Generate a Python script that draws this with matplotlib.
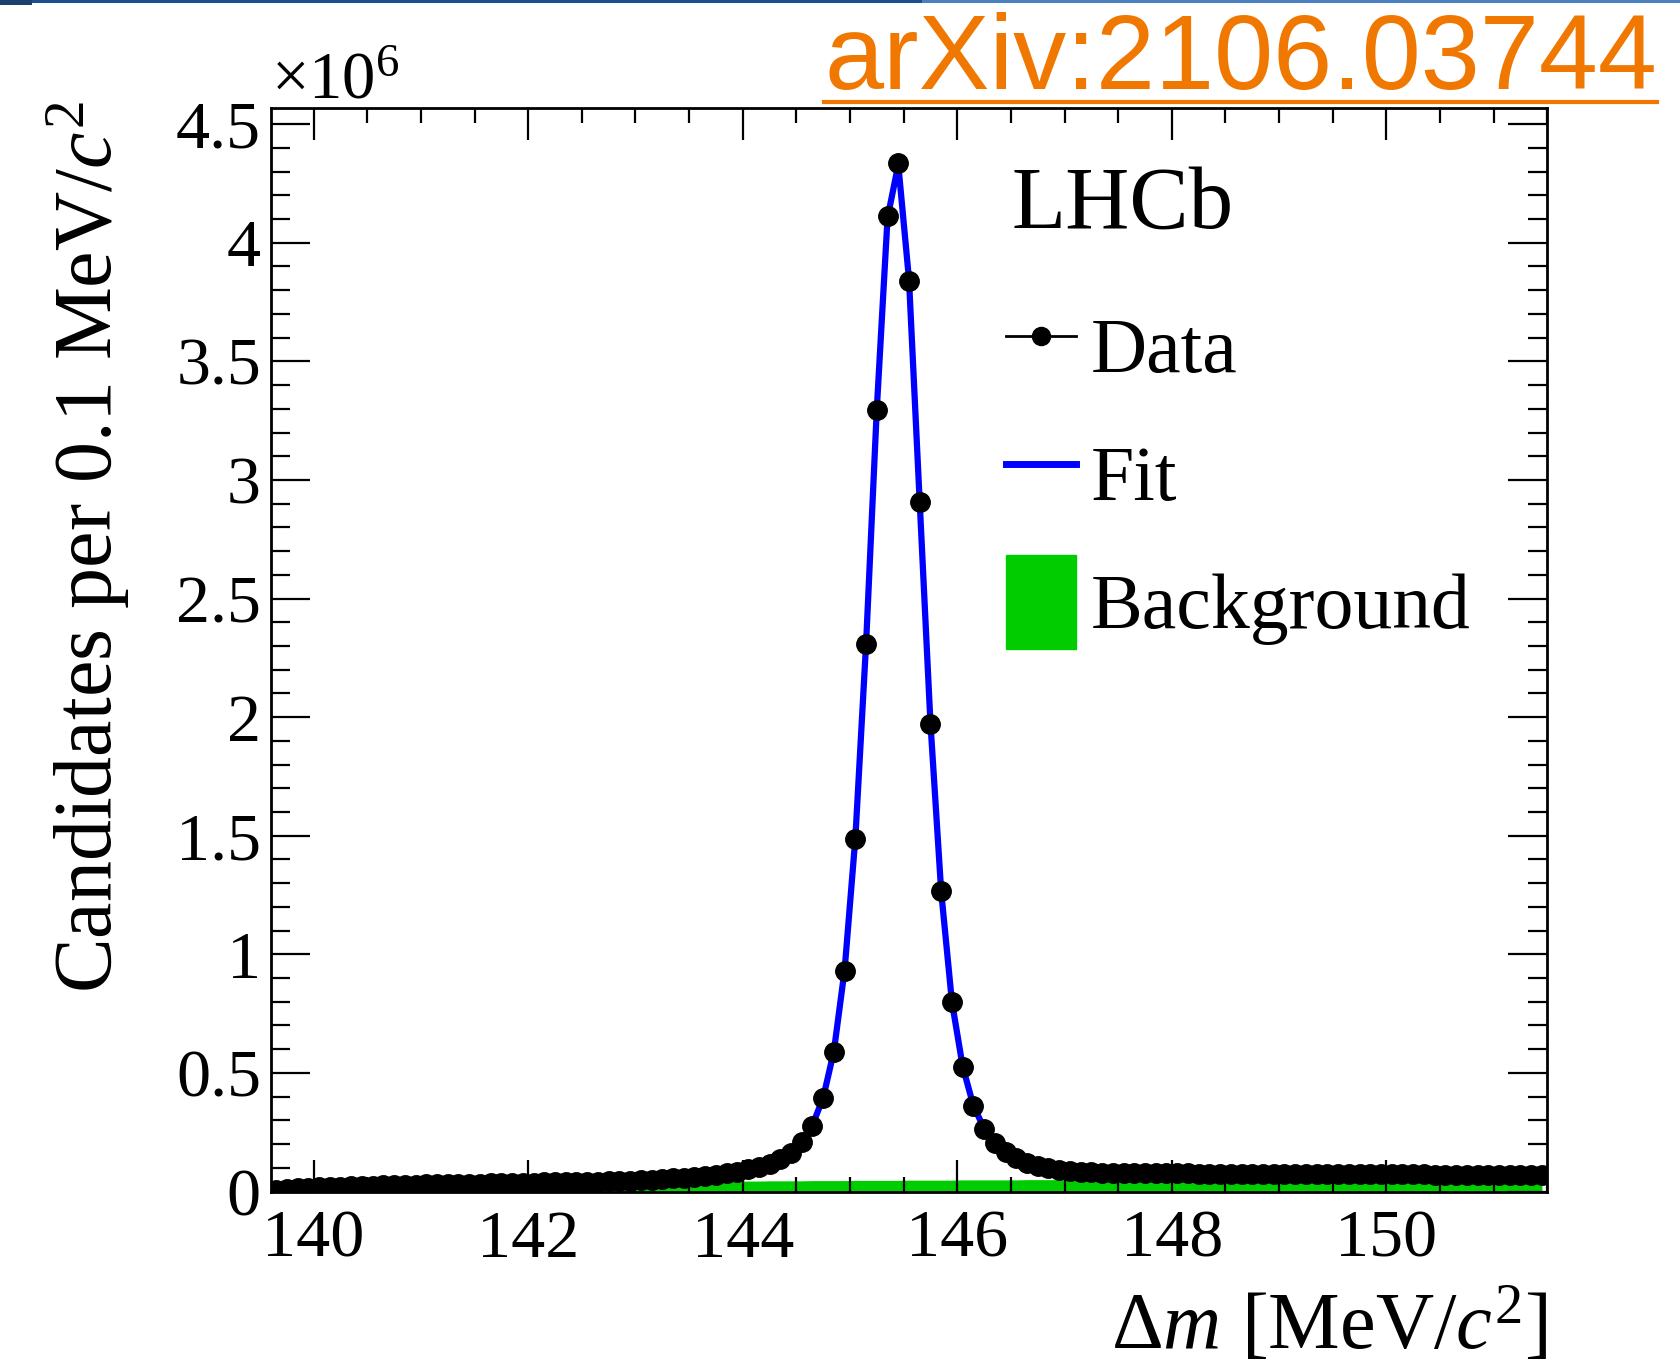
import numpy as np
import matplotlib
matplotlib.use("Agg")
import matplotlib.pyplot as plt
from matplotlib.lines import Line2D
from matplotlib.patches import Patch, Rectangle
from matplotlib.ticker import MultipleLocator, FuncFormatter

plt.rcParams['font.family'] = ['Liberation Serif', 'DejaVu Serif']
plt.rcParams['mathtext.fontset'] = 'custom'
plt.rcParams['mathtext.rm'] = 'Liberation Serif'
plt.rcParams['mathtext.it'] = 'Liberation Serif:italic'
plt.rcParams['mathtext.bf'] = 'Liberation Serif:bold'

# ---- data (in units of 10^6 candidates per 0.1 MeV/c^2) ----
bin_lo, bin_hi, bin_w = 139.6, 151.5, 0.1
bin_centers = np.round(np.arange(bin_lo + bin_w / 2, bin_hi, bin_w), 2)

data_vals = [
    0.005, 0.010, 0.013, 0.016, 0.018, 0.020, 0.021, 0.022, 0.024, 0.025,
    0.026, 0.027, 0.028, 0.029, 0.030, 0.031, 0.031, 0.032, 0.033, 0.033,
    0.034, 0.035, 0.035, 0.036, 0.037, 0.038, 0.038, 0.039, 0.040, 0.041,
    0.042, 0.043, 0.045, 0.046, 0.048, 0.050, 0.052, 0.055, 0.058, 0.062,
    0.066, 0.071, 0.077, 0.084, 0.093, 0.104, 0.117, 0.136, 0.162, 0.210,
    0.277, 0.393, 0.589, 0.929, 1.485, 2.307, 3.297, 4.111, 4.336, 3.840,
    2.908, 1.973, 1.268, 0.797, 0.526, 0.360, 0.265, 0.205, 0.168, 0.140,
    0.119, 0.106, 0.097, 0.091, 0.087, 0.084, 0.082, 0.080, 0.079, 0.078,
    0.077, 0.077, 0.076, 0.076, 0.076, 0.076, 0.075, 0.075, 0.075, 0.075,
    0.075, 0.074, 0.074, 0.074, 0.074, 0.074, 0.073, 0.073, 0.073, 0.073,
    0.073, 0.073, 0.072, 0.072, 0.072, 0.072, 0.072, 0.072, 0.071, 0.071,
    0.071, 0.071, 0.071, 0.071, 0.070, 0.070, 0.070, 0.070, 0.070,
]

fit_vals = [
    0.005, 0.010, 0.013, 0.016, 0.018, 0.020, 0.021, 0.022, 0.024, 0.025,
    0.026, 0.027, 0.028, 0.029, 0.030, 0.031, 0.031, 0.032, 0.033, 0.033,
    0.034, 0.035, 0.035, 0.036, 0.037, 0.038, 0.038, 0.039, 0.040, 0.041,
    0.042, 0.043, 0.045, 0.046, 0.048, 0.050, 0.052, 0.055, 0.058, 0.062,
    0.066, 0.071, 0.077, 0.084, 0.093, 0.104, 0.118, 0.137, 0.165, 0.208,
    0.280, 0.395, 0.592, 0.935, 1.490, 2.310, 3.300, 4.105, 4.330, 3.845,
    2.905, 1.975, 1.265, 0.800, 0.528, 0.362, 0.266, 0.206, 0.168, 0.141,
    0.120, 0.106, 0.097, 0.091, 0.087, 0.084, 0.082, 0.080, 0.079, 0.078,
    0.077, 0.077, 0.076, 0.076, 0.076, 0.076, 0.075, 0.075, 0.075, 0.075,
    0.075, 0.074, 0.074, 0.074, 0.074, 0.074, 0.073, 0.073, 0.073, 0.073,
    0.073, 0.073, 0.072, 0.072, 0.072, 0.072, 0.072, 0.072, 0.071, 0.071,
    0.071, 0.071, 0.071, 0.071, 0.070, 0.070, 0.070, 0.070, 0.070,
]

bkg_vals = [
    0.005, 0.010, 0.013, 0.016, 0.018, 0.020, 0.021, 0.022, 0.023, 0.024,
    0.025, 0.026, 0.027, 0.028, 0.029, 0.030, 0.030, 0.031, 0.032, 0.032,
    0.033, 0.033, 0.034, 0.034, 0.035, 0.035, 0.036, 0.036, 0.037, 0.037,
    0.038, 0.038, 0.039, 0.039, 0.040, 0.040, 0.041, 0.041, 0.042, 0.042,
    0.042, 0.043, 0.043, 0.044, 0.044, 0.044, 0.045, 0.045, 0.045, 0.045,
    0.046, 0.046, 0.046, 0.046, 0.047, 0.047, 0.047, 0.047, 0.047, 0.048,
    0.048, 0.048, 0.048, 0.048, 0.049, 0.049, 0.049, 0.049, 0.049, 0.049,
    0.050, 0.050, 0.050, 0.050, 0.050, 0.050, 0.051, 0.051, 0.051, 0.051,
    0.051, 0.051, 0.052, 0.052, 0.052, 0.052, 0.052, 0.052, 0.052, 0.053,
    0.053, 0.053, 0.053, 0.053, 0.053, 0.053, 0.054, 0.054, 0.054, 0.054,
    0.054, 0.054, 0.054, 0.054, 0.055, 0.055, 0.055, 0.055, 0.055, 0.055,
    0.055, 0.055, 0.055, 0.055, 0.056, 0.056, 0.056, 0.056, 0.056,
]

x_limits = (139.6, 151.5)
y_limits = (0.0, 4.567)
x_major, x_minor = 2.0, 0.5
y_major, y_minor = 0.5, 0.1

green = '#00cc00'
blue = '#0000ff'
orange = '#f07800'

W, H = 1681, 1366
fig = plt.figure(figsize=(W / 100, H / 100), dpi=100)
ax_l, ax_r, ax_t, ax_b = 270.7, 1547.3, 108.3, 1191.5
ax = fig.add_axes([ax_l / W, 1 - ax_b / H, (ax_r - ax_l) / W, (ax_b - ax_t) / H])

ax.fill_between(bin_centers, 0, bkg_vals, color=green, lw=0, zorder=1)
ax.plot(bin_centers, fit_vals, color=blue, lw=4.5, zorder=2, solid_joinstyle='round')
ax.plot(bin_centers, data_vals, 'o', color='black', ms=14, zorder=3, clip_on=True)

ax.set_xlim(*x_limits)
ax.set_ylim(*y_limits)
ax.xaxis.set_major_locator(MultipleLocator(x_major))
ax.xaxis.set_minor_locator(MultipleLocator(x_minor))
ax.yaxis.set_major_locator(MultipleLocator(y_major))
ax.yaxis.set_minor_locator(MultipleLocator(y_minor))
ax.yaxis.set_major_formatter(FuncFormatter(lambda v, p: f"{v:g}"))
ax.xaxis.set_major_formatter(FuncFormatter(lambda v, p: f"{v:g}"))

ax.tick_params(axis='both', which='both', direction='in', top=True, right=True,
               width=1.6, labelsize=49)
ax.tick_params(axis='x', which='major', length=23, pad=13)
ax.tick_params(axis='x', which='minor', length=11)
ax.tick_params(axis='y', which='major', length=28, pad=7)
ax.tick_params(axis='y', which='minor', length=14)
for s in ax.spines.values():
    s.set_linewidth(2.0)
    s.set_zorder(5)

ax.text(-0.143, 1.006, 'Candidates per 0.1 MeV/$c^2$', rotation=90,
        ha='center', va='top', fontsize=59, transform=ax.transAxes)
ax.text(1.0, -0.125, r'$\Delta m$ [MeV/$c^2$]', ha='right', va='center',
        fontsize=58, transform=ax.transAxes)
ax.text(0.0, 1.0095, r'$\times$10$^{6}$', ha='left', va='baseline',
        fontsize=48, transform=ax.transAxes)
ax.text(0.5805, 0.8895, 'LHCb', ha='left', va='baseline', fontsize=64,
        transform=ax.transAxes)

handles = [
    Line2D([], [], color='black', marker='o', lw=2, ms=13),
    Line2D([], [], color=blue, lw=5),
    Patch(facecolor=green, edgecolor=green),
]
labels = ['Data', 'Fit', 'Background']
ax.legend(handles, labels, loc='upper left', bbox_to_anchor=(0.5762, 0.823),
          frameon=False, fontsize=56, handlelength=0.9, handleheight=1.47,
          handletextpad=0.19, labelspacing=0.44, borderpad=0, borderaxespad=0)

# arXiv tag with underline
arx = fig.text(1657 / W, 1 - 89 / H, 'arXiv:2106.03744', ha='right', va='baseline',
               color=orange, fontsize=76.5, family='Liberation Sans')
fig.canvas.draw()
bb = arx.get_window_extent()
uy = 1 - 102 / H
fig.add_artist(Line2D([bb.x0 / W, bb.x1 / W], [uy, uy], color=orange, lw=3))

# top banner strip
fig.add_artist(Rectangle((0, 1 - 3 / H), 922 / W, 3 / H, color='#1c4f8f', lw=0))
fig.add_artist(Rectangle((922 / W, 1 - 3 / H), 1 - 922 / W, 3 / H, color='#4a7fc0', lw=0))
fig.add_artist(Rectangle((0, 1 - 5 / H), 32 / W, 5 / H, color='#1c3f6f', lw=0))

fig.savefig('out.png', dpi=100)
